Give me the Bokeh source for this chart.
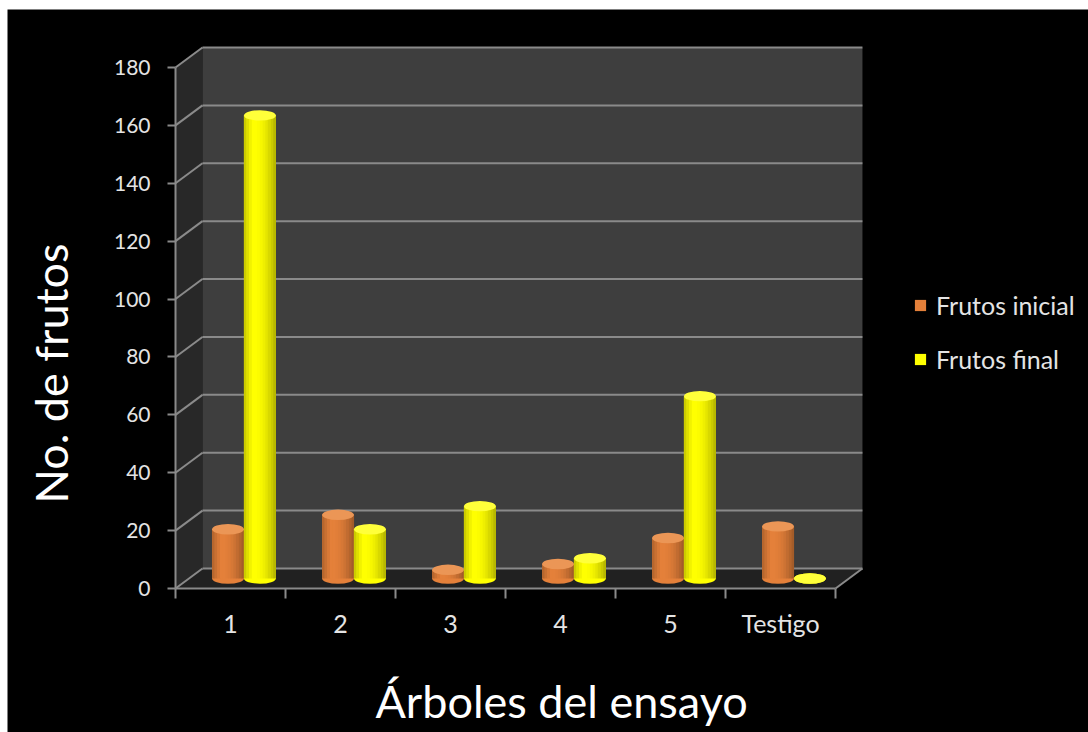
import numpy as np
from bokeh.plotting import figure
from bokeh.models import (ColumnDataSource, FixedTicker, Legend, LegendItem,
                          Label, Range1d)
from bokeh.embed import file_html
from bokeh.resources import INLINE

# ---------------- data ----------------
categories = ["1", "2", "3", "4", "5", "Testigo"]
frutos_inicial = [17, 22, 3, 5, 14, 18]
frutos_final = [160, 17, 25, 7, 63, 0]
y_ticks = [0, 20, 40, 60, 80, 100, 120, 140, 160, 180]
series_names = ["Frutos inicial", "Frutos final"]

# ---------------- style ----------------
FONT = "Lato"
Y_MAX = 180
DX = 0.245      # depth of the 3D box, category units
DY = 6.91       # depth of the 3D box, value units
BAR_W = 0.29
ELL_H = 3.6
GRID_C = "#8a8a8a"
TXT_C = "#e4e4e4"
ORANGE = (228, 128, 58)
ORANGE_TOP = "#eb9656"
YELLOW = (255, 255, 0)
YELLOW_TOP = "#ffff3a"
SHADE = [0.80, 0.88, 0.95, 1.0, 1.0, 0.99, 0.97, 0.94, 0.9, 0.85, 0.79, 0.72]

n_cat = len(categories)

p = figure(width=1081, height=723,
           x_range=Range1d(-1.5273, 8.3), y_range=Range1d(-49.75, 200.04),
           output_backend="svg", toolbar_location=None,
           min_border=0,
           background_fill_color="black", border_fill_color="black",
           outline_line_color=None)
p.margin = (9, 0, 0, 7)
p.xgrid.visible = False
p.ygrid.visible = False

# ---------------- walls / floor ----------------
p.patch([0, DX, DX, 0], [0, DY, Y_MAX + DY, Y_MAX], fill_color="#282828", line_color=None)
p.patch([DX, n_cat + DX, n_cat + DX, DX], [DY, DY, Y_MAX + DY, Y_MAX + DY],
        fill_color="#3e3e3e", line_color=None)
p.patch([0, n_cat, n_cat + DX, DX], [0, 0, DY, DY], fill_color="#212121", line_color=None)

gv = np.array(y_ticks, dtype=float)
p.segment(x0=[DX] * len(gv), y0=gv + DY, x1=[n_cat + DX] * len(gv), y1=gv + DY,
          line_color=GRID_C, line_width=2)
p.segment(x0=[0] * len(gv), y0=gv, x1=[DX] * len(gv), y1=gv + DY,
          line_color=GRID_C, line_width=2)
p.segment(x0=[n_cat], y0=[0], x1=[n_cat + DX], y1=[DY], line_color=GRID_C, line_width=2)

# ---------------- cylinders ----------------
centers = np.arange(n_cat) + 0.5 + DX / 2
legend_renderers = []
for si, (vals, base, top_c) in enumerate([(frutos_inicial, ORANGE, ORANGE_TOP),
                                          (frutos_final, YELLOW, YELLOW_TOP)]):
    vals = np.array(vals, dtype=float)
    xc = centers + (si - 0.5) * BAR_W
    mid = "#%02x%02x%02x" % base
    p.ellipse(x=xc, y=[DY / 2] * n_cat, width=BAR_W, height=ELL_H,
              fill_color=mid, line_color=None)
    r = p.vbar(x=xc, bottom=DY / 2, top=vals + DY / 2, width=BAR_W,
               fill_color=mid, line_color=None)
    legend_renderers.append(r)
    ns = len(SHADE)
    sw = BAR_W / ns
    xs, tops, cols = [], [], []
    for k, f in enumerate(SHADE):
        c = "#%02x%02x%02x" % tuple(int(min(255, v * f)) for v in base)
        for i in range(n_cat):
            xs.append(xc[i] - BAR_W / 2 + (k + 0.5) * sw)
            tops.append(vals[i] + DY / 2)
            cols.append(c)
    src = ColumnDataSource(dict(x=xs, top=tops, color=cols))
    p.vbar(x="x", bottom=DY / 2, top="top", width=sw * 1.08, fill_color="color",
           line_color=None, source=src)
    p.ellipse(x=xc, y=vals + DY / 2, width=BAR_W, height=ELL_H,
              fill_color=top_c, line_color=None)

# ---------------- axes ----------------
p.yaxis.fixed_location = 0
p.yaxis.ticker = FixedTicker(ticks=y_ticks)
p.yaxis.bounds = (0, Y_MAX)
p.yaxis.axis_line_color = GRID_C
p.yaxis.axis_line_width = 2
p.yaxis.major_tick_out = 8
p.yaxis.major_tick_in = 0
p.yaxis.major_tick_line_color = GRID_C
p.yaxis.major_tick_line_width = 2
p.yaxis.minor_tick_line_color = None
p.yaxis.major_label_standoff = 17
p.yaxis.major_label_text_font = FONT
p.yaxis.major_label_text_font_size = "21px"
p.yaxis.major_label_text_color = TXT_C

label_pos = [i + 0.5 for i in range(n_cat)]
p.xaxis.fixed_location = 0
p.xaxis.ticker = FixedTicker(ticks=label_pos, minor_ticks=list(range(n_cat + 1)))
p.xaxis.major_label_overrides = {pos: c for pos, c in zip(label_pos, categories)}
p.xaxis.bounds = (0, n_cat)
p.xaxis.axis_line_color = GRID_C
p.xaxis.axis_line_width = 2
p.xaxis.major_tick_out = 0
p.xaxis.major_tick_in = 0
p.xaxis.minor_tick_out = 10
p.xaxis.minor_tick_in = 0
p.xaxis.minor_tick_line_color = GRID_C
p.xaxis.minor_tick_line_width = 2
p.xaxis.major_label_standoff = 9
p.xaxis.major_label_text_font = FONT
p.xaxis.major_label_text_font_size = "25px"
p.xaxis.major_label_text_color = TXT_C

# ---------------- titles ----------------
p.add_layout(Label(x=3.51, y=-38.7, text="Árboles del ensayo", text_align="center",
                   text_baseline="middle", text_font=FONT, text_font_size="45px",
                   text_color="white"))
p.add_layout(Label(x=-1.136, y=74.3, text="No. de frutos", text_align="center",
                   text_baseline="middle", angle=np.pi / 2, text_font=FONT,
                   text_font_size="45px", text_color="white"))

# ---------------- legend ----------------
legend = Legend(items=[LegendItem(label=series_names[0], renderers=[legend_renderers[0]]),
                       LegendItem(label=series_names[1], renderers=[legend_renderers[1]])],
                location=(906, 358), glyph_width=14, glyph_height=14,
                label_height=24, spacing=24, label_standoff=9,
                label_text_font=FONT, label_text_font_size="25px",
                label_text_color=TXT_C, padding=0, margin=0,
                background_fill_alpha=0, border_line_color=None)
p.add_layout(legend)

open("out.html", "w").write(file_html(p, INLINE))
